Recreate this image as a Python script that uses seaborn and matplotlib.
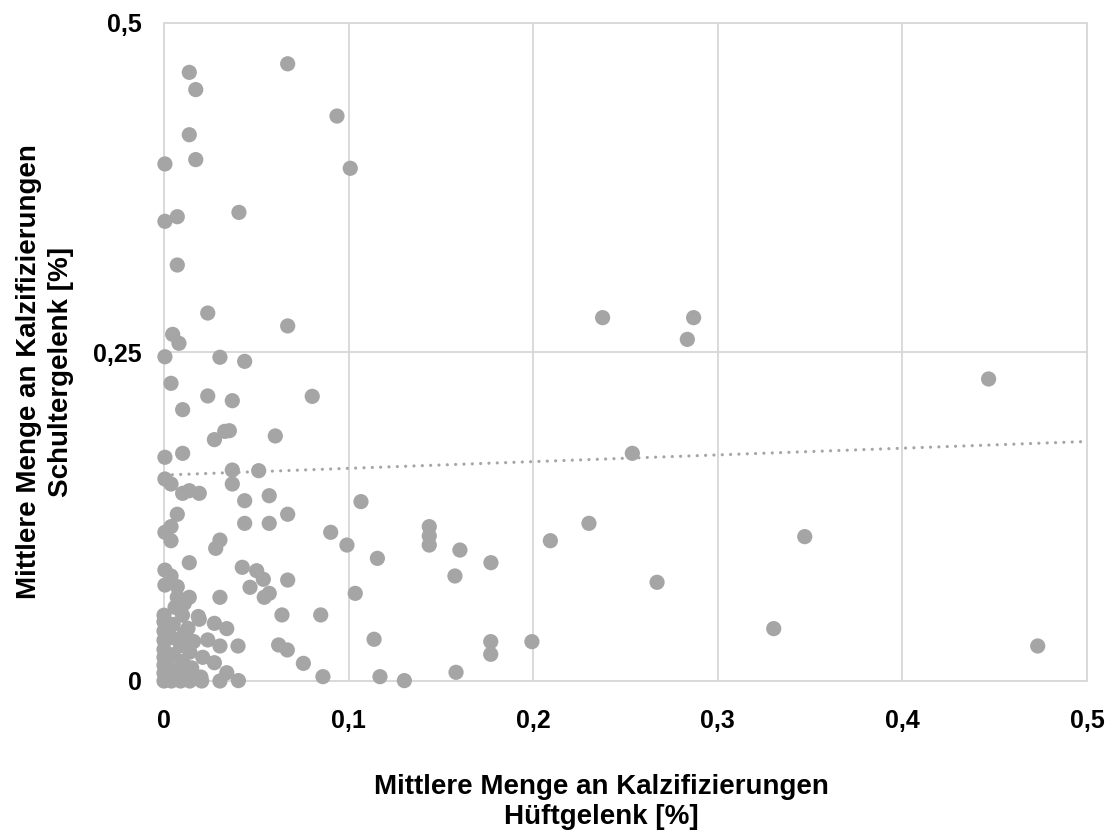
import numpy as np
import pandas as pd
import matplotlib
matplotlib.use("Agg")
import matplotlib.pyplot as plt
import seaborn as sns

# Mean calcification per patient: hip joint (x) vs. shoulder joint (y), in percent
hip = [
    0.0670, 0.0137, 0.0172, 0.0937, 0.0137, 0.0172, 0.0005, 0.1009, 0.0406, 0.0072,
    0.0005, 0.0072, 0.0237, 0.0670, 0.0047, 0.0081, 0.0005, 0.0303, 0.0437, 0.0038,
    0.0237, 0.0370, 0.0803, 0.0101, 0.0329, 0.0354, 0.0273, 0.0603, 0.0005, 0.0101,
    0.0370, 0.0513, 0.0005, 0.0038, 0.0370, 0.0101, 0.0137, 0.0191, 0.0437, 0.0570,
    0.1067, 0.0670, 0.0072, 0.0437, 0.0570, 0.0038, 0.0005, 0.0038, 0.0903, 0.0991,
    0.1437, 0.1437, 0.1437, 0.1156, 0.0303, 0.0280, 0.0137, 0.0005, 0.0038, 0.0005,
    0.0072, 0.0424, 0.0502, 0.0538, 0.0670, 0.0466, 0.0570, 0.0543, 0.0072, 0.0137,
    0.0303, 0.1036, 0.0639, 0.0849, 0.0191, 0.0273, 0.0340, 0.0237, 0.0303, 0.0401,
    0.0621, 0.0668, 0.1138, 0.0755, 0.0861, 0.1170, 0.1302, 0.0403, 0.0273, 0.0340,
    0.0204, 0.0303,
    0.2376, 0.2869, 0.2835, 0.4467, 0.2537, 0.3471, 0.2671, 0.3303, 0.4733, 0.1603,
    0.1576, 0.1582, 0.2302, 0.2093, 0.1771, 0.1770, 0.1770, 0.1993,
    0.0000, 0.0000, 0.0000, 0.0000, 0.0000, 0.0000, 0.0000, 0.0000, 0.0000,
    0.0040, 0.0040, 0.0050, 0.0040, 0.0050, 0.0060,
    0.0090, 0.0090, 0.0100, 0.0090, 0.0110, 0.0100, 0.0110,
    0.0140, 0.0150, 0.0140, 0.0160, 0.0130,
    0.0200, 0.0210, 0.0186,
]
shoulder = [
    0.4690, 0.4625, 0.4494, 0.4293, 0.4151, 0.3962, 0.3929, 0.3896, 0.3561, 0.3528,
    0.3493, 0.3161, 0.2796, 0.2698, 0.2634, 0.2566, 0.2464, 0.2460, 0.2429, 0.2262,
    0.2166, 0.2130, 0.2163, 0.2062, 0.1897, 0.1902, 0.1834, 0.1862, 0.1700, 0.1730,
    0.1603, 0.1598, 0.1535, 0.1497, 0.1497, 0.1426, 0.1446, 0.1426, 0.1370, 0.1408,
    0.1363, 0.1267, 0.1267, 0.1198, 0.1198, 0.1173, 0.1130, 0.1066, 0.1130, 0.1033,
    0.1173, 0.1102, 0.1033, 0.0932, 0.1071, 0.1008, 0.0899, 0.0843, 0.0798, 0.0729,
    0.0717, 0.0864, 0.0838, 0.0773, 0.0767, 0.0712, 0.0666, 0.0636, 0.0636, 0.0636,
    0.0636, 0.0666, 0.0502, 0.0502, 0.0469, 0.0438, 0.0398, 0.0312, 0.0266, 0.0266,
    0.0274, 0.0236, 0.0317, 0.0134, 0.0033, 0.0033, 0.0003, 0.0003, 0.0139, 0.0063,
    0.0000, 0.0000,
    0.2761, 0.2761, 0.2596, 0.2295, 0.1730, 0.1097, 0.0750, 0.0398, 0.0266, 0.0995,
    0.0798, 0.0066, 0.1198, 0.1066, 0.0899, 0.0299, 0.0203, 0.0299,
    0.0000, 0.0060, 0.0120, 0.0180, 0.0240, 0.0310, 0.0380, 0.0450, 0.0500,
    0.0000, 0.0090, 0.0200, 0.0330, 0.0430, 0.0560,
    0.0000, 0.0060, 0.0150, 0.0270, 0.0360, 0.0500, 0.0590,
    0.0000, 0.0100, 0.0220, 0.0300, 0.0400,
    0.0030, 0.0180, 0.0490,
]

# Linear trend line of shoulder vs. hip calcification
trend_intercept = 0.1565
trend_slope = 0.051
trend_x = [0.0, 0.5]

x_ticks = [0, 0.1, 0.2, 0.3, 0.4, 0.5]
x_tick_labels = ["0", "0,1", "0,2", "0,3", "0,4", "0,5"]
y_ticks = [0, 0.25, 0.5]
y_tick_labels = ["0", "0,25", "0,5"]

x_title = "Mittlere Menge an Kalzifizierungen\nHüftgelenk [%]"
y_title = "Mittlere Menge an Kalzifizierungen\nSchultergelenk [%]"

df = pd.DataFrame({"hip": hip, "shoulder": shoulder})

sns.set_theme(style="white")
plt.rcParams["font.family"] = ["Liberation Sans", "DejaVu Sans"]
plt.rcParams["font.weight"] = "bold"
plt.rcParams["text.color"] = "black"
plt.rcParams["xtick.color"] = "black"
plt.rcParams["ytick.color"] = "black"

point_color = "#a5a5a5"
grid_color = "#d9d9d9"

fig = plt.figure(figsize=(11.16, 8.35), dpi=100)
ax = fig.add_axes([164 / 1116, 1 - 681 / 835, (1087 - 164) / 1116, (681 - 23) / 835])

ax.set_xlim(0, 0.5)
ax.set_ylim(0, 0.5)
ax.set_xticks(x_ticks)
ax.set_yticks(y_ticks)
ax.grid(True, color=grid_color, linewidth=1.4)
ax.set_axisbelow(True)
for sp in ax.spines.values():
    sp.set_visible(True)
    sp.set_color(grid_color)
    sp.set_linewidth(1.4)

sns.scatterplot(data=df, x="hip", y="shoulder", ax=ax, color=point_color,
                s=120, edgecolor="none", linewidth=0, zorder=3, clip_on=False)

tx = np.array(trend_x)
ax.plot(tx, trend_intercept + trend_slope * tx, color=point_color, linewidth=2.3,
        linestyle=(0, (0.01, 2.6)), dash_capstyle="round", zorder=2)

ax.set_xticklabels(x_tick_labels, fontsize=18, fontweight="bold", color="black")
ax.set_yticklabels(y_tick_labels, fontsize=18, fontweight="bold", color="black")
ax.tick_params(axis="x", length=0, pad=20)
ax.tick_params(axis="y", length=0, pad=16)
ax.set_xlabel("")
ax.set_ylabel("")

fig.text(601 / 1116, 1 - 802 / 835, x_title, ha="center", va="center",
         fontsize=20, fontweight="bold", linespacing=1.25, color="black")
fig.text(45 / 1116, 1 - 372 / 835, y_title, ha="center", va="center",
         rotation=90, fontsize=20, fontweight="bold", linespacing=1.25, color="black")

fig.savefig("out.png", dpi=100, facecolor="white")
